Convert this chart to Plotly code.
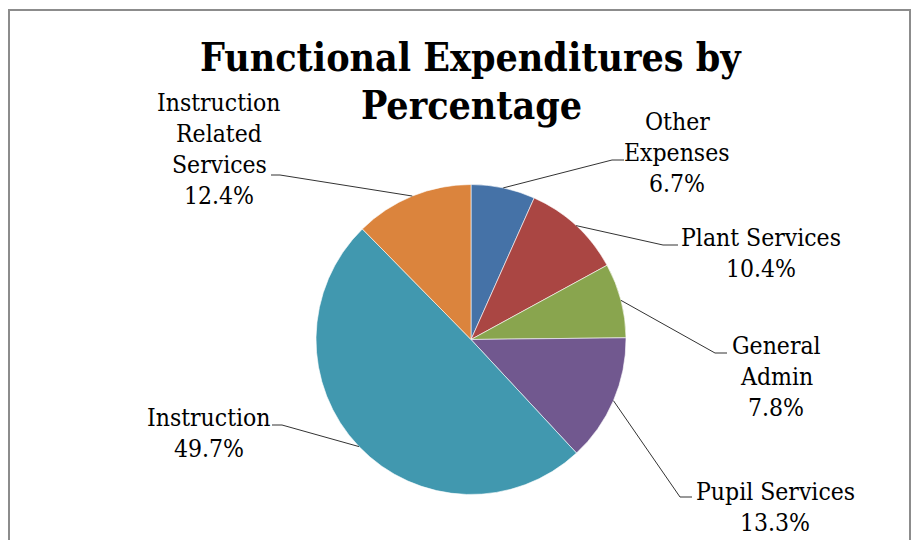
import math
import plotly.graph_objects as go

# ---- data ----
categories = ["Other Expenses", "Plant Services", "General Admin", "Pupil Services",
              "Instruction", "Instruction Related Services"]
percentages = [6.7, 10.4, 7.8, 13.3, 49.7, 12.4]
label_lines = [["Other", "Expenses"], ["Plant Services"], ["General", "Admin"],
               ["Pupil Services"], ["Instruction"], ["Instruction", "Related", "Services"]]
colors = ["#4572A7", "#AA4643", "#89A54E", "#71588F", "#4198AF", "#DB843D"]
title_lines = ["Functional Expenditures by", "Percentage"]

# ---- layout geometry (pixels) ----
W, H = 920, 540
CX, CY, R = 471, 339.5, 155
label_pos = [(677, 121), (761, 237), (776, 345), (775, 491), (209, 417), (219, 102)]
elbows = [((612, 160), (624, 160)), ((663, 245), (678, 245)), ((715, 353), (727, 353)),
          ((680, 497), (692, 497)), ((282, 425), (272, 425)), ((280, 175), (271, 175))]
LINE_H = 31.3
FONT = "DejaVu Serif Condensed, DejaVu Serif"


def px(x):
    return x / W


def py(y):
    return 1 - y / H


fig = go.Figure(go.Pie(
    labels=categories, values=percentages, sort=False, direction="clockwise",
    rotation=0, textinfo="none", hoverinfo="label+percent",
    marker=dict(colors=colors, line=dict(color="rgba(255,255,255,0.6)", width=1)),
    domain=dict(x=[px(CX - R), px(CX + R)], y=[py(CY + R), py(CY - R)]),
    showlegend=False,
))

annotations = []
shapes = []
total = sum(percentages)
cum = 0.0
for i, v in enumerate(percentages):
    mid = (cum + v / 2) / total * 2 * math.pi
    cum += v
    sx, sy = CX + R * math.sin(mid), CY - R * math.cos(mid)
    (ex, ey), (fx, fy) = elbows[i]
    shapes.append(dict(type="path", xref="paper", yref="paper",
                       path=f"M {px(sx)},{py(sy)} L {px(ex)},{py(ey)} L {px(fx)},{py(fy)}",
                       line=dict(color="#333333", width=1)))
    lx, ly = label_pos[i]
    lines = label_lines[i] + [f"{v:.1f}%"]
    for j, t in enumerate(lines):
        annotations.append(dict(text=t, x=px(lx), y=py(ly + j * LINE_H), xref="paper", yref="paper",
                                showarrow=False, xanchor="center", yanchor="middle",
                                font=dict(family=FONT, size=24.5, color="#000000")))

for j, t in enumerate(title_lines):
    annotations.append(dict(text=f"<b>{t}</b>", x=px(471), y=py(57 + j * 48), xref="paper", yref="paper",
                            showarrow=False, xanchor="center", yanchor="middle",
                            font=dict(family=FONT, size=39, color="#000000")))

shapes.append(dict(type="rect", xref="paper", yref="paper", x0=px(9), x1=px(910), y0=py(560), y1=py(10),
                   line=dict(color="#8c8c8c", width=2), fillcolor="rgba(0,0,0,0)"))

fig.update_layout(width=W, height=H, margin=dict(l=0, r=0, t=0, b=0),
                  paper_bgcolor="white", plot_bgcolor="white", font=dict(family=FONT),
                  annotations=annotations, shapes=shapes)

fig.write_html("out.html")
